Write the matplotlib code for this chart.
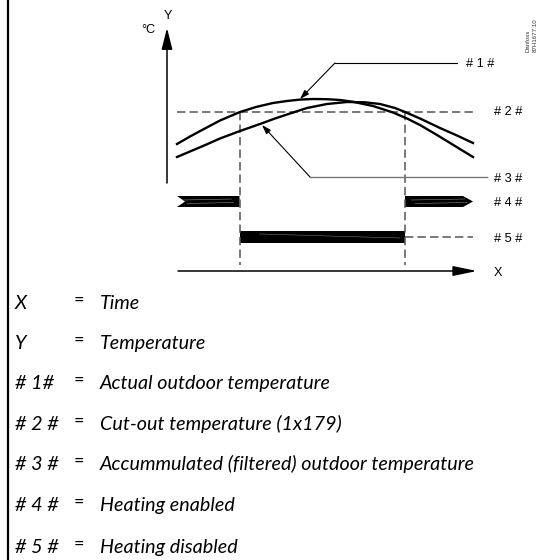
import matplotlib
matplotlib.use("Agg")
import matplotlib.pyplot as plt
from matplotlib.patches import Polygon

plt.rcParams['lines.scale_dashes'] = False

# diagram is laid out on a 546 x 560 grid (y grows downwards)
# actual outdoor temperature (#1)
actual_x = [177, 190, 203, 220, 240, 256, 273, 287, 300, 313, 327, 340, 353, 373, 393, 407, 420, 437, 455, 473]
actual_y = [144, 136.5, 129.5, 120.5, 112, 107, 103, 101, 99.6, 99, 99.2, 100, 101.8, 106, 112.5, 118.5, 125, 135, 146, 157]

# accumulated (filtered) outdoor temperature (#3)
filtered_x = [177, 190, 203, 220, 240, 260, 275, 290, 307, 327, 347, 365, 380, 395, 405, 420, 440, 457, 473]
filtered_y = [157, 151.5, 146, 138.5, 131, 124, 118.5, 113.5, 108, 104, 102, 102.3, 104, 108, 112, 118.5, 128, 135.5, 143]

# cut-out temperature (#2) and switching instants
cutout_y = 112
cutout_x = [177, 473]
switch_x = [239.5, 405]
switch_y = [112, 265]

# heating enabled / disabled bands
enabled_row = 201.5
disabled_row = 237
band_half = 5.5
enabled_left = [177, 239.5]
enabled_right = [405, 473]
disabled_span = [239.5, 405]

# label column of the diagram
label_x = 494
diagram_labels = ["# 1 #", "# 2 #", "# 3 #", "# 4 #", "# 5 #"]
diagram_label_y = [64, 112, 179, 203, 239]

# legend
legend_keys = ["X", "Y", "# 1#", "# 2 #", "# 3 #", "# 4 #", "# 5 #"]
legend_text = ["Time", "Temperature", "Actual outdoor temperature",
               "Cut-out temperature (1x179)",
               "Accummulated (filtered) outdoor temperature",
               "Heating enabled", "Heating disabled"]
legend_baseline = [309, 349, 389, 430, 470, 511, 553]

fig = plt.figure(figsize=(5.46, 5.60), dpi=100)
ax = fig.add_axes([0, 0, 1, 1])
ax.set_xlim(0, 546)
ax.set_ylim(560, 0)
ax.axis('off')

dash_grey = '#555555'
diag_font = dict(family='Liberation Sans', fontsize=9.2, color='black')

# frame line on the left
ax.plot([8, 8], [0, 560], color='black', lw=1.6, solid_capstyle='butt')

# axes with arrows
ax.annotate('', xy=(167, 28), xytext=(167, 183),
            arrowprops=dict(arrowstyle='-|>,head_length=1.3,head_width=0.33',
                            color='black', lw=1.1, shrinkA=0, shrinkB=0))
ax.annotate('', xy=(477, 271), xytext=(178, 271),
            arrowprops=dict(arrowstyle='-|>,head_length=1.45,head_width=0.3',
                            color='black', lw=1.1, shrinkA=0, shrinkB=0))
ax.text(141, 30, '°C', ha='left', va='center', **diag_font)
ax.text(168, 16, 'Y', ha='center', va='center', **diag_font)
ax.text(494, 273, 'X', ha='left', va='center', **diag_font)

# cut-out level and switching instants
ax.plot(cutout_x, [cutout_y, cutout_y], color=dash_grey, lw=1.1, dashes=(6, 3))
for sx in switch_x:
    ax.plot([sx, sx], switch_y, color=dash_grey, lw=1.1, dashes=(6, 3))

# temperature curves
ax.plot(actual_x, actual_y, color='black', lw=1.7, solid_joinstyle='round')
ax.plot(filtered_x, filtered_y, color='black', lw=1.7, solid_joinstyle='round')

# leader lines
ax.plot([457, 335], [63, 63], color='black', lw=0.8)
ax.annotate('', xy=(300, 99), xytext=(335, 63),
            arrowprops=dict(arrowstyle='-|>,head_length=0.55,head_width=0.18',
                            color='black', lw=0.8, shrinkA=0, shrinkB=0))
ax.plot([487, 310], [177, 177], color='#777777', lw=1.0)
ax.annotate('', xy=(262, 125), xytext=(310, 177),
            arrowprops=dict(arrowstyle='-|>,head_length=0.55,head_width=0.18',
                            color='black', lw=0.8, shrinkA=0, shrinkB=0))

for lbl, ly in zip(diagram_labels, diagram_label_y):
    lx = 466 if lbl == "# 1 #" else label_x
    ax.text(lx, ly, lbl, ha='left', va='center', **diag_font)

# heating enabled band, notched tail on the left
top, bot = enabled_row - band_half, enabled_row + band_half
ax.add_patch(Polygon([(enabled_left[0], top), (enabled_left[1], top),
                      (enabled_left[1], bot), (enabled_left[0], bot),
                      (enabled_left[0] + 8, enabled_row)],
                     closed=True, color='black', lw=0))
# heating enabled band, pointed head on the right
ax.add_patch(Polygon([(enabled_right[0], top), (enabled_right[1] - 10, top),
                      (enabled_right[1], enabled_row),
                      (enabled_right[1] - 10, bot), (enabled_right[0], bot)],
                     closed=True, color='black', lw=0))
# heating disabled band
ax.add_patch(Polygon([(disabled_span[0], disabled_row - band_half - 0.5),
                      (disabled_span[1], disabled_row - band_half - 0.5),
                      (disabled_span[1], disabled_row + band_half + 0.5),
                      (disabled_span[0], disabled_row + band_half + 0.5)],
                     closed=True, color='black', lw=0))
ax.plot([disabled_span[1], 473], [disabled_row, disabled_row],
        color=dash_grey, lw=1.1, dashes=(6, 3))

# faint streaks inside the bands
for x0, x1 in (enabled_left, enabled_right):
    ax.plot([x0 + 6, x1 - 8], [enabled_row - 1.5, enabled_row - 2.5], color='#888888', lw=0.4)
    ax.plot([x0 + 10, x1 - 6], [enabled_row + 2, enabled_row + 1], color='#888888', lw=0.4)
ax.plot([disabled_span[0] + 20, disabled_span[1] - 5], [disabled_row - 3, disabled_row + 1],
        color='#777777', lw=0.4)

# drawing reference, rotated
ax.text(528, 52, 'Danfoss', rotation=90, ha='center', va='bottom',
        family='Liberation Sans', fontsize=4.4, color='#333333')
ax.text(535, 52, '87H1677.10', rotation=90, ha='center', va='bottom',
        family='Liberation Sans', fontsize=4.4, color='#333333')

# legend
for key, txt, by in zip(legend_keys, legend_text, legend_baseline):
    ax.text(15, by, key, ha='left', va='baseline', family='Lato',
            fontstyle='italic', fontsize=14.2)
    ax.text(79, by - 4, '=', ha='center', va='baseline', family='Lato',
            fontsize=13)
    ax.text(100, by, txt, ha='left', va='baseline', family='Lato',
            fontstyle='italic', fontsize=14.2)

fig.savefig('out.png', dpi=100)
